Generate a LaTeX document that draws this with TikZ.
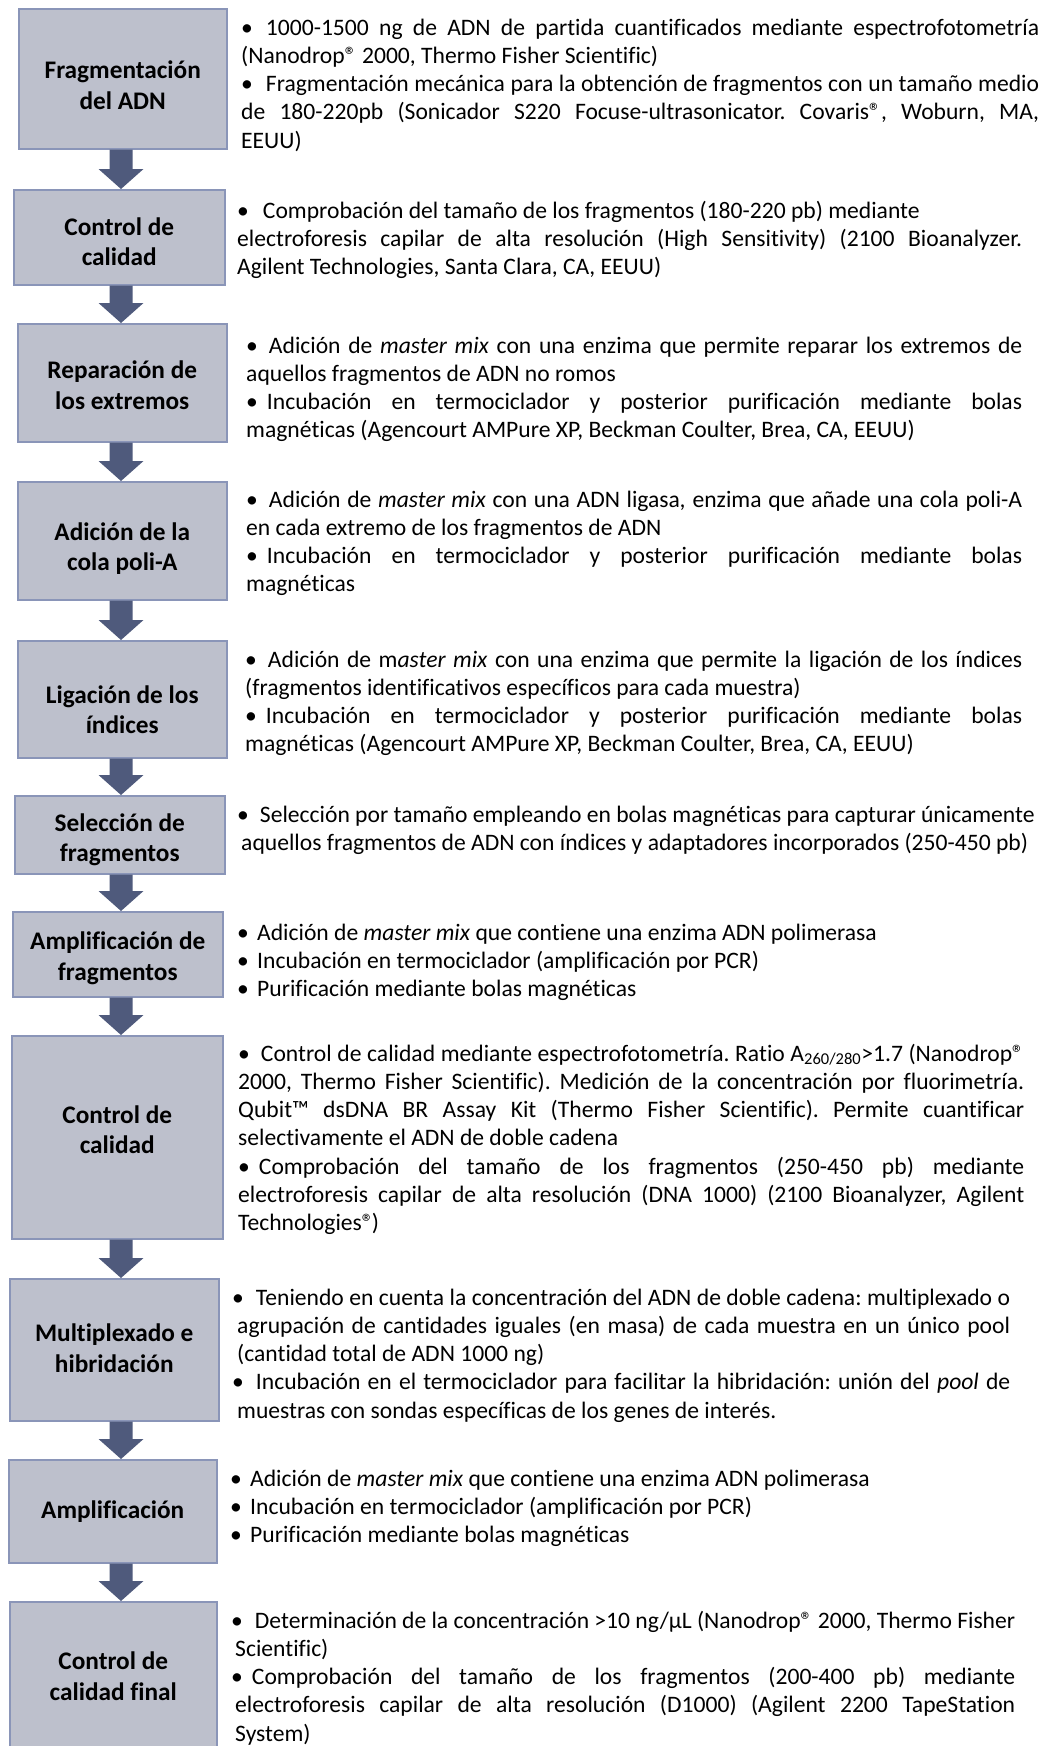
\documentclass[tikz,border=0pt]{standalone}
\usepackage{fontspec}
\setmainfont{Carlito}[Ligatures={NoCommon}]
\usetikzlibrary{calc}

\definecolor{boxfill}{HTML}{BDC0CC}
\definecolor{boxline}{HTML}{8A95B8}
\definecolor{arrowfill}{HTML}{4F5A7C}

% description text: each line is its own box, justified (\jl) or ragged (\rl)
\newlength\lw
\newcommand\desc[2]{\vtop{\frenchspacing\setlength\lw{#1}\hsize=\lw
  \baselineskip=28.3pt\lineskiplimit=-50pt\lineskip=0pt #2}}
\newcommand\jl[1]{\hbox to \lw{#1}}
\newcommand\rl[1]{\hbox to \lw{#1\hfil}}
\newcommand\bitem{\makebox[20pt][l]{•}}
\newcommand\bul[1]{•\hspace{#1}}

% thick block arrow from #1 (top) down to #2 (tip)
\newcommand\flowarrow[2]{%
  \path (#1) coordinate (fa-s) (#2) coordinate (fa-e);
  \fill[arrowfill] ([xshift=-11.5pt]fa-s) -- ([xshift=-11.5pt,yshift=20pt]fa-e)
    -- ([xshift=-22.5pt,yshift=20pt]fa-e) -- (fa-e)
    -- ([xshift=22.5pt,yshift=20pt]fa-e) -- ([xshift=11.5pt,yshift=20pt]fa-e)
    -- ([xshift=11.5pt]fa-s) -- cycle;}

\tikzset{
  flowbox/.style={draw=boxline, fill=boxfill, line width=1.5pt, anchor=north west,
    inner sep=0pt},
  steplabel/.style={inner sep=0pt, align=center,
    font=\fontsize{25.3}{30.5}\selectfont\bfseries},
  desctext/.style={anchor=base west, inner sep=0pt,
    font=\fontsize{23.6}{28.3}\selectfont}
}

\begin{document}
\begin{tikzpicture}[x=1pt,y=-1pt]
\useasboundingbox (0,0) rectangle (1042,1746);
\fill[white] (0,0) rectangle (1042,1746);
\clip (0,0) rectangle (1042,1746);

% step boxes
\node[flowbox, minimum width=208pt, minimum height=140pt] (b1) at (18,8) {};
\node[flowbox, minimum width=211pt, minimum height=95pt] (b2) at (13,189) {};
\node[flowbox, minimum width=209pt, minimum height=118pt] (b3) at (17,323) {};
\node[flowbox, minimum width=209pt, minimum height=118pt] (b4) at (17,481) {};
\node[flowbox, minimum width=209pt, minimum height=117pt] (b5) at (17,640) {};
\node[flowbox, minimum width=210pt, minimum height=78pt] (b6) at (14,795) {};
\node[flowbox, minimum width=210pt, minimum height=85pt] (b7) at (12,911) {};
\node[flowbox, minimum width=211pt, minimum height=203pt] (b8) at (11,1035) {};
\node[flowbox, minimum width=209pt, minimum height=142pt] (b9) at (9,1278) {};
\node[flowbox, minimum width=208pt, minimum height=103pt] (b10) at (8,1459) {};
\node[flowbox, minimum width=207pt, minimum height=151pt] (b11) at (9,1601) {};

% step names
\node[steplabel] (l1) at ([yshift=-6.5pt]b1.center) {Fragmentación\\del ADN};
\node[steplabel] (l2) at ([yshift=-4.5pt]b2.center) {Control de\\calidad};
\node[steplabel] (l3) at ([yshift=-2.5pt]b3.center) {Reparación de\\los extremos};
\node[steplabel] (l4) at ([yshift=-8pt]b4.center) {Adición de la\\cola poli-A};
\node[steplabel] (l5) at ([yshift=-10.5pt]b5.center) {Ligación de los\\índices};
\node[steplabel] (l6) at ([yshift=-5pt]b6.center) {Selección de\\fragmentos};
\node[steplabel] (l7) at ([yshift=-4pt]b7.center) {Amplificación de\\fragmentos};
\node[steplabel] (l8) at ([yshift=7.5pt]b8.center) {Control de\\calidad};
\node[steplabel] (l9) at ([yshift=1.5pt]b9.center) {Multiplexado e\\hibridación};
\node[steplabel] (l10) at (b10.center) {Amplificación};
\node[steplabel] (l11) at ([yshift=1pt]b11.center) {Control de\\calidad final};

% arrows between consecutive steps
\coordinate (ax) at (121,0);
\foreach \i/\j in {b1/b2,b2/b3,b3/b4,b4/b5,b5/b6,b6/b7,b7/b8,b8/b9,b9/b10,b10/b11}
  {\flowarrow{ax |- \i.south}{ax |- \j.north}}

% descriptions
\node[desctext] (d1) at (241,35) {\desc{798pt}{%
\jl{\bul{13pt}1000-1500 ng de ADN de partida cuantificados mediante espectrofotometría}
\rl{(Nanodrop® 2000, Thermo Fisher Scientific)}
\jl{\bul{13pt}Fragmentación mecánica para la obtención de fragmentos con un tamaño medio}
\jl{de 180-220pb (Sonicador S220 Focuse-ultrasonicator. Covaris®, Woburn, MA,}
\rl{EEUU)}}};

\node[desctext] (d2) at (237,218) {\desc{785pt}{%
\rl{\bul{14pt}Comprobación del tamaño de los fragmentos (180-220 pb) mediante}
\jl{electroforesis capilar de alta resolución (High Sensitivity) (2100 Bioanalyzer.}
\rl{Agilent Technologies, Santa Clara, CA, EEUU)}}};

\node[desctext] (d3) at (246,353) {\desc{776pt}{%
\jl{\bul{11pt}Adición de \textit{master mix} con una enzima que permite reparar los extremos de}
\rl{aquellos fragmentos de ADN no romos}
\jl{\bul{9pt}Incubación en termociclador y posterior purificación mediante bolas}
\rl{magnéticas (Agencourt AMPure XP, Beckman Coulter, Brea, CA, EEUU)}}};

\node[desctext] (d4) at (246,507) {\desc{776pt}{%
\jl{\bul{11pt}Adición de \textit{master mix} con una ADN ligasa\textit{,} enzima que añade una cola poli-A}
\rl{en cada extremo de los fragmentos de ADN}
\jl{\bul{9pt}Incubación en termociclador y posterior purificación mediante bolas}
\rl{magnéticas}}};

\node[desctext] (d5) at (245,667) {\desc{777pt}{%
\jl{\bul{11pt}Adición de m\textit{aster mix} con una enzima que permite la ligación de los índices}
\rl{(fragmentos identificativos específicos para cada muestra)}
\jl{\bul{9pt}Incubación en termociclador y posterior purificación mediante bolas}
\rl{magnéticas (Agencourt AMPure XP, Beckman Coulter, Brea, CA, EEUU)}}};

\node[desctext] (d6) at (237,822) {\desc{810pt}{%
\rl{\bul{11pt}Selección por tamaño empleando en bolas magnéticas para capturar únicamente}
\rl{\hspace{4pt}aquellos fragmentos de ADN con índices y adaptadores incorporados (250-450 pb)}}};

\node[desctext] (d7) at (237,940) {\desc{785pt}{%
\rl{\bitem Adición de \textit{master mix} que contiene una enzima ADN polimerasa}
\rl{\bitem Incubación en termociclador (amplificación por PCR)}
\rl{\bitem Purificación mediante bolas magnéticas}}};

\node[desctext] (d8) at (238,1061) {\desc{786pt}{%
\jl{\bul{11pt}Control de calidad mediante espectrofotometría. Ratio A\textsubscript{260/280}>1.7 (Nanodrop®}
\jl{2000, Thermo Fisher Scientific). Medición de la concentración por fluorimetría.}
\jl{Qubit™ dsDNA BR Assay Kit (Thermo Fisher Scientific). Permite cuantificar}
\rl{selectivamente el ADN de doble cadena}
\jl{\bul{9pt}Comprobación del tamaño de los fragmentos (250-450 pb) mediante}
\jl{electroforesis capilar de alta resolución (DNA 1000) (2100 Bioanalyzer, Agilent}
\rl{Technologies®\kern-2pt)}}};

\node[desctext] (d9) at (232,1305) {\desc{778pt}{%
\jl{\bul{12pt}Teniendo en cuenta la concentración del ADN de doble cadena: multiplexado o}
\jl{\hspace{5pt}agrupación de cantidades iguales (en masa) de cada muestra en un único pool}
\rl{\hspace{5pt}(cantidad total de ADN 1000 ng)}
\jl{\bul{12pt}Incubación en el termociclador para facilitar la hibridación: unión del \textit{pool} de}
\rl{\hspace{5pt}muestras con sondas específicas de los genes de interés.}}};

\node[desctext] (d10) at (230,1486) {\desc{785pt}{%
\rl{\bitem Adición de \textit{master mix} que contiene una enzima ADN polimerasa}
\rl{\bitem Incubación en termociclador (amplificación por PCR)}
\rl{\bitem Purificación mediante bolas magnéticas}}};

\node[desctext] (d11) at (231,1628) {\desc{784pt}{%
\jl{\bul{12pt}Determinación de la concentración >10 ng/µL (Nanodrop® 2000, Thermo Fisher}
\rl{\hspace{4pt}Scientific)}
\jl{\bul{9pt}Comprobación del tamaño de los fragmentos (200-400 pb) mediante}
\jl{\hspace{4pt}electroforesis capilar de alta resolución (D1000) (Agilent 2200 TapeStation}
\rl{\hspace{4pt}System)}}};
\end{tikzpicture}
\end{document}
